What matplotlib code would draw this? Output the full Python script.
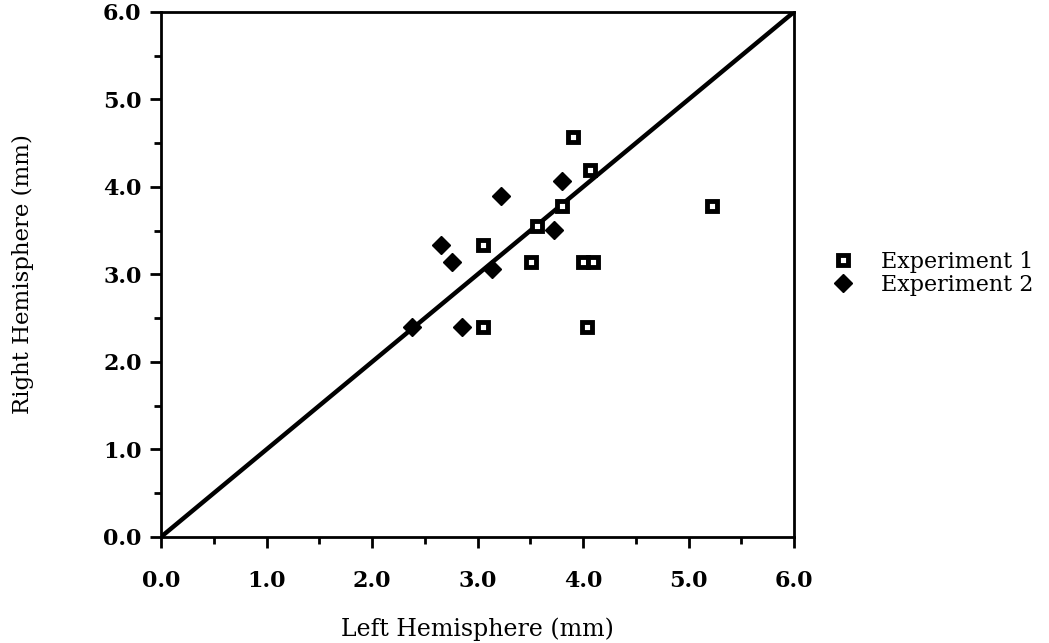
import matplotlib.pyplot as plt
import numpy as np

# Experiment 1 (open squares)
exp1_left = [3.90, 4.07, 3.80, 3.56, 3.05, 3.51, 4.00, 4.09, 3.05, 4.04, 5.22]
exp1_right = [4.57, 4.19, 3.78, 3.55, 3.34, 3.14, 3.14, 3.14, 2.40, 2.40, 3.78]

# Experiment 2 (filled diamonds)
exp2_left = [2.38, 2.85, 2.65, 2.76, 3.14, 3.22, 3.80, 3.72]
exp2_right = [2.40, 2.40, 3.34, 3.14, 3.06, 3.90, 4.07, 3.51]

ticks = [0.0, 1.0, 2.0, 3.0, 4.0, 5.0, 6.0]
tick_labels = ["0.0", "1.0", "2.0", "3.0", "4.0", "5.0", "6.0"]

plt.rcParams['font.family'] = ['DejaVu Serif']

fig = plt.figure(figsize=(10.49, 6.43), dpi=100)
ax = fig.add_axes([0.1535, 0.165, 0.6035, 0.8165])

# identity line
ax.plot([0, 6], [0, 6], color='black', linewidth=3.2, zorder=2)

ax.plot(exp1_left, exp1_right, linestyle='none', marker='s', markersize=7,
        markerfacecolor='white', markeredgecolor='black', markeredgewidth=3.5,
        label='Experiment 1', zorder=3)
ax.plot(exp2_left, exp2_right, linestyle='none', marker='D', markersize=9,
        markerfacecolor='black', markeredgecolor='black',
        label='Experiment 2', zorder=3)

ax.set_xlim(0, 6)
ax.set_ylim(0, 6)
ax.set_xticks(ticks)
ax.set_xticklabels(tick_labels, fontweight='bold')
ax.set_yticks(ticks)
ax.set_yticklabels(tick_labels, fontweight='bold')
ax.set_xticks(np.arange(0.5, 6, 1.0), minor=True)
ax.set_yticks(np.arange(0.5, 6, 1.0), minor=True)
ax.tick_params(axis='both', which='major', direction='out', length=8, width=2,
               labelsize=16, pad=6)
ax.tick_params(axis='x', which='major', pad=16)
ax.tick_params(axis='both', which='minor', direction='out', length=5, width=2)
for s in ax.spines.values():
    s.set_linewidth(2)

ax.set_xlabel('Left Hemisphere (mm)', fontsize=17, labelpad=18)
ax.set_ylabel('Right Hemisphere (mm)', fontsize=16.5, labelpad=50)

ax.legend(loc='center left', bbox_to_anchor=(0.772, 0.575),
          bbox_transform=fig.transFigure, frameon=False, fontsize=16,
          handletextpad=1.1, handlelength=1.2, labelspacing=0.05)

fig.savefig('out.png', dpi=100)
